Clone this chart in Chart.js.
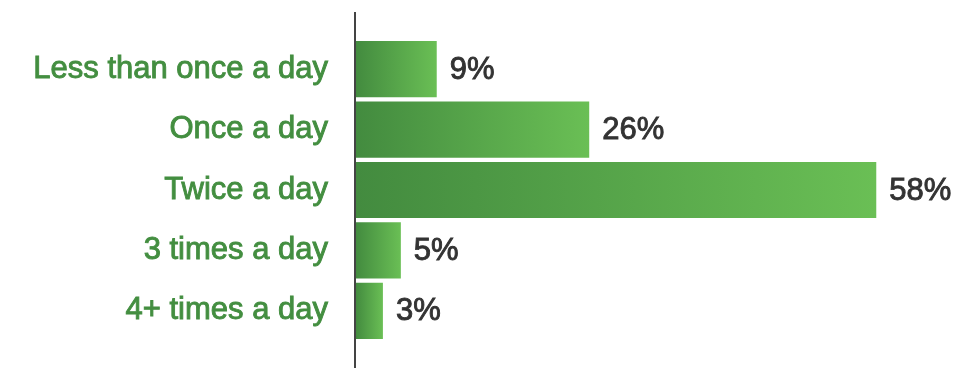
<!DOCTYPE html>
<html>
<head>
<meta charset="utf-8">
<script src="https://cdn.jsdelivr.net/npm/chart.js@4"></script>
<style>
  html, body { margin: 0; padding: 0; background: #ffffff; }
  #wrap { width: 957px; height: 368px; position: relative; }
</style>
</head>
<body>
<div id="wrap"><canvas id="freqChart"></canvas></div>
<script>
// categories and values (percent)
const categories = ['Less than once a day', 'Once a day', 'Twice a day', '3 times a day', '4+ times a day'];
const percentValues = [9, 26, 58, 5, 3];

const labelFont = { family: '"Liberation Sans", Arial, sans-serif', size: 31, weight: 'normal' };

// horizontal gradient for every bar, from the base to its own end
function barGradient(context) {
    const chart = context.chart;
    if (!chart.chartArea || !chart.scales.x) return '#4f9a47';
    const x0 = chart.scales.x.getPixelForValue(0);
    const x1 = chart.scales.x.getPixelForValue(context.raw || 0);
    const g = chart.ctx.createLinearGradient(x0, 0, Math.max(x1, x0 + 1), 0);
    g.addColorStop(0, '#438b3f');
    g.addColorStop(1, '#6abf55');
    return g;
}

// draw the vertical axis line a bit past the plot area, and the % labels
const decorPlugin = {
    id: 'decor',
    afterDatasetsDraw(chart) {
        const ctx = chart.ctx;
        const area = chart.chartArea;
        ctx.save();
        ctx.strokeStyle = '#444444';
        ctx.lineWidth = 2;
        ctx.beginPath();
        ctx.moveTo(area.left - 1, 12);
        ctx.lineTo(area.left - 1, chart.height);
        ctx.stroke();

        ctx.font = '31px "Liberation Sans", Arial, sans-serif';
        ctx.fillStyle = '#333333';
        ctx.strokeStyle = '#333333';
        ctx.lineWidth = 0.9;
        ctx.textAlign = 'left';
        ctx.textBaseline = 'middle';
        const meta = chart.getDatasetMeta(0);
        meta.data.forEach((bar, i) => {
            const txt = percentValues[i] + '%';
            ctx.fillText(txt, bar.x + 13, bar.y + 1);
            ctx.strokeText(txt, bar.x + 13, bar.y + 1);
        });
        ctx.restore();
    }
};

const ctx = document.getElementById('freqChart');
new Chart(ctx, {
    type: 'bar',
    data: {
        labels: categories,
        datasets: [{
            data: percentValues,
            backgroundColor: barGradient,
            borderWidth: 0,
            barPercentage: 0.93,
            categoryPercentage: 1.0
        }]
    },
    options: {
        indexAxis: 'y',
        responsive: true,
        maintainAspectRatio: false,
        animation: false,
        layout: {
            padding: { top: 39, bottom: 27, left: 0, right: 0 }
        },
        scales: {
            x: {
                display: false,
                min: 0,
                max: 67
            },
            y: {
                afterFit: function(scale) {
                    scale.width = 356;
                    scale.paddingTop = 0;
                    scale.paddingBottom = 0;
                },
                grid: { display: false, drawTicks: false },
                border: { display: false },
                ticks: {
                    color: '#438e40',
                    textStrokeColor: '#438e40',
                    textStrokeWidth: 0.9,
                    padding: 28,
                    font: labelFont
                }
            }
        },
        plugins: {
            legend: { display: false },
            tooltip: { enabled: false }
        }
    },
    plugins: [decorPlugin]
});
</script>
</body>
</html>
